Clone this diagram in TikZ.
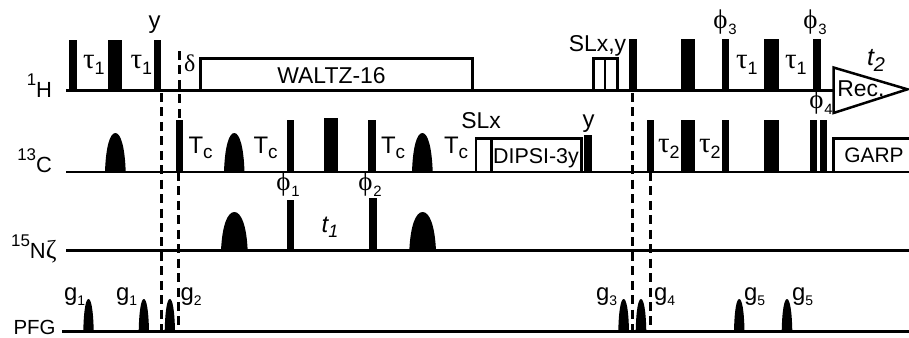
\documentclass[tikz,border=0pt]{standalone}
\usepackage{fontspec}
\setmainfont{Liberation Sans}
\newfontfamily\grk{Liberation Serif}
\newcommand{\px}[1]{\fontsize{#1}{#1}\selectfont}
\newcommand{\low}[2]{\raisebox{-#1pt}{\px{18}#2}}
\newcommand{\hi}[1]{\raisebox{12pt}{\px{17}#1}}
\newcommand{\tauL}[1]{{\grk\px{29}τ}\low{7}{#1}}
\newcommand{\phiL}[1]{{\grk\px{27}ϕ}\hspace{1pt}\low{6}{\px{15}#1}}
\newcommand{\gL}[1]{{\px{24}g}\low{6}{\px{14}#1}}
\newcommand{\TcL}{{\px{24}T}\low{6}{\px{19}c}}
\newcommand{\pulse}[4]{\fill (#1,#4) rectangle (#2,#3);}
\newcommand{\shaped}[4]{\fill (#1,#4) .. controls ({#1+0.04*(#2-#1)},{#3+0.35*(#4-#3)}) and ({#1+0.24*(#2-#1)},#3) .. ({(#1+#2)/2},#3) .. controls ({#2-0.24*(#2-#1)},#3) and ({#2-0.04*(#2-#1)},{#3+0.35*(#4-#3)}) .. (#2,#4) -- cycle;}
\tikzset{
  rail/.style={line width=2.6pt,black},
  outline/.style={line width=2.5pt,black,line join=miter},
  dashline/.style={line width=2.7pt,black,dash pattern=on 9pt off 5.5pt},
  lab/.style={anchor=base,inner sep=0pt,outer sep=0pt,text=black,font=\px{23}},
}
\begin{document}
\begin{tikzpicture}[x=1bp,y=-1bp,every path/.append style={line cap=butt}]
\useasboundingbox[fill=white] (0,0) rectangle (909,337);
% dashed guides
\draw[dashline] (161.5,93) -- (161.5,331);
\draw[dashline] (179.3,51) -- (179.3,120);
\draw[dashline] (178.5,172) -- (178.5,331);
\draw[dashline] (632.8,93) -- (632.8,334);
\draw[dashline] (650.7,172) -- (650.7,331);
% rails
\draw[rail] (66,90.7) -- (833,90.7);
\draw[rail] (66,172) -- (909,172);
\draw[rail] (66,250.7) -- (909,250.7);
\draw[rail] (62,331.5) -- (909,331.5);
% 1H pulses
\pulse{69}{76.7}{39.5}{91}
\pulse{108}{122.3}{39.5}{91}
\pulse{154}{161.3}{39.5}{91}
\pulse{629.3}{636.7}{39}{91}
\pulse{680.7}{695.3}{39}{91}
\pulse{721.7}{729}{39}{91}
\pulse{764}{778.7}{39}{91}
\pulse{813.3}{820.7}{39}{91}
% 1H boxes
\draw[outline] (200.5,90.7) -- (200.5,58.3) -- (472.7,58.3) -- (472.7,90.7);
\draw[outline] (593.5,90.7) -- (593.5,58.3) -- (617.5,58.3) -- (617.5,90.7);
\draw[line width=1.8pt] (605.3,58.3) -- (605.3,90.7);
% receiver
\fill[white] (833.5,67.5) -- (907,89) -- (833.5,113) -- cycle;
\draw[outline] (833.5,67.5) -- (907.5,89.3) -- (833.5,113) -- cycle;
% 13C pulses
\shaped{105}{125.7}{133}{172}
\pulse{176}{183.3}{120}{172}
\shaped{224}{244.5}{133}{172}
\pulse{286.5}{293.7}{120}{172}
\pulse{324}{338.3}{118}{172}
\pulse{368.3}{376.3}{120}{172}
\shaped{412}{432.7}{133}{172}
\pulse{584}{591.7}{135}{172}
\pulse{647.3}{654.3}{120}{172}
\pulse{680.7}{695.3}{120}{172}
\pulse{721.7}{729}{120}{172}
\pulse{764}{778.7}{120}{172}
\pulse{810}{816.7}{120}{172}
\pulse{820}{827.3}{120}{172}
% 13C boxes
\draw[outline] (476,172) -- (476,138.3) -- (581.7,138.3) -- (581.7,172);
\draw[outline] (491.3,138.3) -- (491.3,172);
\draw[outline] (833.5,172) -- (833.5,138.3) -- (909,138.3);
% 15N
\shaped{221}{247.7}{212}{251}
\pulse{286.5}{294}{200}{251}
\pulse{368.5}{376.5}{198}{251}
\shaped{409.3}{436}{212}{251}
% PFG
\shaped{83.3}{93.7}{299}{331}
\shaped{138.7}{149}{299}{331}
\shaped{164.7}{175}{299}{331}
\shaped{618.3}{629}{299}{331}
\shaped{635.7}{646.3}{299}{331}
\shaped{734}{744.5}{299}{331}
\shaped{781.7}{792.3}{299}{331}
% channel labels
\node[lab,anchor=base east,font=\px{22}] (lh) at (52,97.5) {\hi{1}H};
\node[lab,anchor=base east,font=\px{22}] (lc) at (52,172) {\hi{13}C};
\node[lab,anchor=base east,font=\px{22}] (ln) at (56.5,258) {\hi{15}N{\grk\px{26}ζ}};
\node[lab,anchor=base east,font=\px{20.5}] (lp) at (55.5,334.5) {PFG};
% 1H labels
\node[lab,font=\px{24}] (ty) at (154.5,28) {y};
\node[lab,anchor=base west] (t1a) at (83,68) {\tauL{1}};
\node[lab,anchor=base west] (t1b) at (130.5,68) {\tauL{1}};
\node[lab,anchor=base west] (dl) at (184,71.5) {{\grk\px{24}δ}};
\node[lab] (wz) at (331.5,83.3) {WALTZ-16};
\node[lab] (slxy) at (597.5,51.5) {SLx,y};
\node[lab] (p3a) at (725,28.5) {\phiL{3}};
\node[lab,anchor=base west] (t1c) at (736,68) {\tauL{1}};
\node[lab,anchor=base west] (t1d) at (785,68) {\tauL{1}};
\node[lab] (p3b) at (815,28.5) {\phiL{3}};
\node[lab] (t2l) at (876,65) {{\itshape\px{25}t}\low{7}{\itshape\px{20}2}};
\node[lab] (rec) at (861,96.5) {Rec.};
% 13C labels
\node[lab,anchor=base west] (tc1) at (188.5,153) {\TcL};
\node[lab,anchor=base west] (tc2) at (253.5,153) {\TcL};
\node[lab,anchor=base west] (tc3) at (381,153) {\TcL};
\node[lab,anchor=base west] (tc4) at (444,153) {\TcL};
\node[lab] (slx) at (481,128) {SLx};
\node[lab,font=\px{21.5}] (dip) at (536,163) {DIPSI-3y};
\node[lab,font=\px{24}] (yy) at (588.5,127) {y};
\node[lab,anchor=base west] (t2a) at (658,152) {\tauL{2}};
\node[lab,anchor=base west] (t2b) at (699,152) {\tauL{2}};
\node[lab] (p4) at (821,108.5) {\phiL{4}};
\node[lab,font=\px{21}] (garp) at (874,162.5) {GARP};
% 15N labels
\node[lab] (p1) at (288,190.5) {\phiL{1}};
\node[lab] (p2) at (370,190.5) {\phiL{2}};
\node[lab] (t1l) at (330,232) {{\itshape\px{24}t}\low{6}{\itshape\px{18}1}};
% PFG labels
\node[lab,anchor=base west] (g1a) at (64,300) {\gL{1}};
\node[lab,anchor=base west] (g1b) at (116,300) {\gL{1}};
\node[lab,anchor=base west] (g2) at (180.5,300) {\gL{2}};
\node[lab,anchor=base west] (g3) at (596,300) {\gL{3}};
\node[lab,anchor=base west] (g4) at (654,300) {\gL{4}};
\node[lab,anchor=base west] (g5a) at (744,300) {\gL{5}};
\node[lab,anchor=base west] (g5b) at (792,300) {\gL{5}};
\end{tikzpicture}
\end{document}
